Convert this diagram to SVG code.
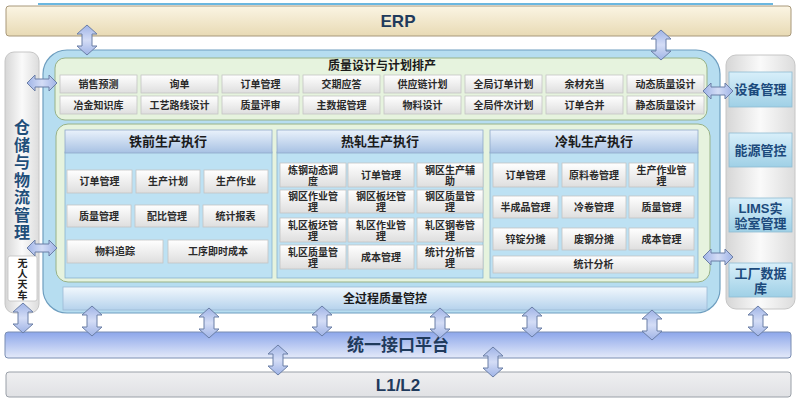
<svg xmlns="http://www.w3.org/2000/svg" width="800" height="400" viewBox="0 0 800 400">
<defs>
<linearGradient id="gErp" x1="0" y1="0" x2="0" y2="1"><stop offset="0" stop-color="#fbf5e4"/><stop offset="1" stop-color="#e8dab4"/></linearGradient>
<linearGradient id="gCol" x1="0" y1="0" x2="1" y2="0"><stop offset="0" stop-color="#d6d6d6"/><stop offset="0.5" stop-color="#fafafa"/><stop offset="1" stop-color="#dcdcdc"/></linearGradient>
<linearGradient id="gBtn" x1="0" y1="0" x2="0" y2="1"><stop offset="0" stop-color="#ffffff"/><stop offset="1" stop-color="#dedede"/></linearGradient>
<linearGradient id="gHead" x1="0" y1="0" x2="0" y2="1"><stop offset="0" stop-color="#eaf2fb"/><stop offset="1" stop-color="#a7c1e3"/></linearGradient>
<linearGradient id="gRbox" x1="0" y1="0" x2="0" y2="1"><stop offset="0" stop-color="#d8effa"/><stop offset="1" stop-color="#9fd0e6"/></linearGradient>
<linearGradient id="gPlat" x1="0" y1="0" x2="0" y2="1"><stop offset="0" stop-color="#8ca6ea"/><stop offset="1" stop-color="#e4eaf9"/></linearGradient>
<linearGradient id="gL12" x1="0" y1="0" x2="0" y2="1"><stop offset="0" stop-color="#efeff1"/><stop offset="1" stop-color="#e0e1e4"/></linearGradient>
<linearGradient id="gQ" x1="0" y1="0" x2="0" y2="1"><stop offset="0" stop-color="#f2f8fd"/><stop offset="1" stop-color="#b5d2ec"/></linearGradient>
<linearGradient id="gArV" x1="0" y1="0" x2="0" y2="1"><stop offset="0" stop-color="#9fb3e6"/><stop offset="0.5" stop-color="#d4ddf6"/><stop offset="1" stop-color="#9fb3e6"/></linearGradient>
<linearGradient id="gArH" x1="0" y1="0" x2="1" y2="0"><stop offset="0" stop-color="#9fb3e6"/><stop offset="0.5" stop-color="#d4ddf6"/><stop offset="1" stop-color="#9fb3e6"/></linearGradient>
<path id="av" d="M0,-15 L10,-6 L5,-6 L5,6 L10,6 L0,15 L-10,6 L-5,6 L-5,-6 L-10,-6 Z"/>
<path id="ah" d="M-15,0 L-7,-8 L-7,-4 L7,-4 L7,-8 L15,0 L7,8 L7,4 L-7,4 L-7,8 Z"/>
</defs>
<style>
text{font-family:"Liberation Sans","Noto Sans CJK SC",sans-serif;font-weight:bold;text-anchor:middle;dominant-baseline:central}
.btn{fill:url(#gBtn);stroke:#c4c4c4;stroke-width:0.8}
.bt{font-size:10px;fill:#2a2a2a}
.hd{fill:url(#gHead);stroke:#8fa9c9;stroke-width:0.8}
.ht{font-size:13px;fill:#1a1a1a}
.body{fill:#bde1f3;stroke:#8ab2cc;stroke-width:0.8}
.rb{fill:url(#gRbox);stroke:#8fbcd3;stroke-width:0.8}
.rt{font-size:13px;fill:#1c4a7c}
.vt{font-size:16px;fill:#1f4e79}
.ct{font-size:10px;fill:#222}
.big{fill:#1f3a5c}
.av{fill:url(#gArV);stroke:#6b7fa6;stroke-width:1}
.ah{fill:url(#gArH);stroke:#6b7fa6;stroke-width:1}
</style>
<rect width="800" height="400" fill="#ffffff"/>
<line x1="38" y1="4" x2="773" y2="4" stroke="#3a9fd6" stroke-width="1.5"/>

<g id="erp">
<rect x="6" y="6" width="785" height="30" rx="3" fill="url(#gErp)" stroke="#a8987a" stroke-width="1"/>
<text x="398" y="21" font-size="17" class="big">ERP</text>
</g>

<g id="warehouse">
<rect x="5" y="52" width="34" height="261" rx="9" fill="url(#gCol)" stroke="#c6c6c6" stroke-width="1"/>
<text class="vt"><tspan x="22" y="127">仓</tspan><tspan x="22" y="144.5">储</tspan><tspan x="22" y="162">与</tspan><tspan x="22" y="179.5">物</tspan><tspan x="22" y="197">流</tspan><tspan x="22" y="214.5">管</tspan><tspan x="22" y="232">理</tspan></text>
</g>
<g id="crane">
<rect x="8" y="256" width="29" height="45" rx="2" fill="#ffffff" stroke="#c0c0c0" stroke-width="0.8"/>
<text class="ct"><tspan x="22.5" y="263">无</tspan><tspan x="22.5" y="273.5">人</tspan><tspan x="22.5" y="284">天</tspan><tspan x="22.5" y="294.5">车</tspan></text>
</g>

<g id="right-column">
<rect x="726" y="55" width="69" height="254" rx="10" fill="url(#gCol)" stroke="#c6c6c6" stroke-width="1"/>
</g>

<g id="mes-container">
<rect x="43" y="50" width="677" height="263" rx="24" fill="#b6ddf0" stroke="#6e9ebf" stroke-width="1.2"/>
</g>

<g id="quality-design">
<rect x="55" y="58" width="652" height="62" rx="10" fill="#e6f3de" stroke="#98b288" stroke-width="1"/>
<text x="382" y="66" font-size="12" fill="#1a1a1a">质量设计与计划排产</text>
<g>
<rect class="btn" x="60" y="75" width="77" height="18"/><text class="bt" x="98.5" y="84">销售预测</text>
<rect class="btn" x="141" y="75" width="77" height="18"/><text class="bt" x="179.5" y="84">询单</text>
<rect class="btn" x="222" y="75" width="77" height="18"/><text class="bt" x="260.5" y="84">订单管理</text>
<rect class="btn" x="303" y="75" width="77" height="18"/><text class="bt" x="341.5" y="84">交期应答</text>
<rect class="btn" x="384" y="75" width="77" height="18"/><text class="bt" x="422.5" y="84">供应链计划</text>
<rect class="btn" x="465" y="75" width="77" height="18"/><text class="bt" x="503.5" y="84">全局订单计划</text>
<rect class="btn" x="546" y="75" width="77" height="18"/><text class="bt" x="584.5" y="84">余材充当</text>
<rect class="btn" x="627" y="75" width="77" height="18"/><text class="bt" x="665.5" y="84">动态质量设计</text>
<rect class="btn" x="60" y="96" width="77" height="18"/><text class="bt" x="98.5" y="105">冶金知识库</text>
<rect class="btn" x="141" y="96" width="77" height="18"/><text class="bt" x="179.5" y="105">工艺路线设计</text>
<rect class="btn" x="222" y="96" width="77" height="18"/><text class="bt" x="260.5" y="105">质量评审</text>
<rect class="btn" x="303" y="96" width="77" height="18"/><text class="bt" x="341.5" y="105">主数据管理</text>
<rect class="btn" x="384" y="96" width="77" height="18"/><text class="bt" x="422.5" y="105">物料设计</text>
<rect class="btn" x="465" y="96" width="77" height="18"/><text class="bt" x="503.5" y="105">全局件次计划</text>
<rect class="btn" x="546" y="96" width="77" height="18"/><text class="bt" x="584.5" y="105">订单合并</text>
<rect class="btn" x="627" y="96" width="77" height="18"/><text class="bt" x="665.5" y="105">静态质量设计</text>
</g>
</g>

<g id="production-panel">
<rect x="56" y="124" width="654" height="158" rx="12" fill="#e6f3de" stroke="#98b288" stroke-width="1"/>
</g>

<g id="iron-making">
<rect class="body" x="65" y="152" width="207" height="126"/>
<rect class="hd" x="65" y="130" width="207" height="23"/>
<text class="ht" x="168" y="141.5">铁前生产执行</text>
<rect class="btn" x="67" y="170" width="65" height="23"/><text class="bt" x="99.5" y="181.5">订单管理</text>
<rect class="btn" x="136" y="170" width="64" height="23"/><text class="bt" x="168" y="181.5">生产计划</text>
<rect class="btn" x="204" y="170" width="64" height="23"/><text class="bt" x="236" y="181.5">生产作业</text>
<rect class="btn" x="67" y="205" width="64" height="22"/><text class="bt" x="99" y="216">质量管理</text>
<rect class="btn" x="135" y="205" width="64" height="22"/><text class="bt" x="167" y="216">配比管理</text>
<rect class="btn" x="203" y="205" width="65" height="22"/><text class="bt" x="235.5" y="216">统计报表</text>
<rect class="btn" x="67" y="240" width="96" height="23"/><text class="bt" x="115" y="251.5">物料追踪</text>
<rect class="btn" x="168" y="240" width="100" height="23"/><text class="bt" x="218" y="251.5">工序即时成本</text>
</g>

<g id="hot-rolling">
<rect class="body" x="277" y="152" width="206" height="126"/>
<rect class="hd" x="277" y="130" width="206" height="23"/>
<text class="ht" x="380" y="141.5">热轧生产执行</text>
<rect class="btn" x="280" y="163" width="66" height="24"/><text class="bt"><tspan x="313" y="169.5">炼钢动态调</tspan><tspan x="313" y="180.5">度</tspan></text>
<rect class="btn" x="348" y="163" width="66" height="24"/><text class="bt" x="381" y="175">订单管理</text>
<rect class="btn" x="417" y="163" width="66" height="24"/><text class="bt"><tspan x="450" y="169.5">钢区生产辅</tspan><tspan x="450" y="180.5">助</tspan></text>
<rect class="btn" x="280" y="190" width="66" height="23"/><text class="bt"><tspan x="313" y="196">钢区作业管</tspan><tspan x="313" y="207">理</tspan></text>
<rect class="btn" x="348" y="190" width="66" height="23"/><text class="bt"><tspan x="381" y="196">钢区板坯管</tspan><tspan x="381" y="207">理</tspan></text>
<rect class="btn" x="417" y="190" width="66" height="23"/><text class="bt"><tspan x="450" y="196">钢区质量管</tspan><tspan x="450" y="207">理</tspan></text>
<rect class="btn" x="280" y="218" width="66" height="24"/><text class="bt"><tspan x="313" y="224.5">轧区板坯管</tspan><tspan x="313" y="235.5">理</tspan></text>
<rect class="btn" x="348" y="218" width="66" height="24"/><text class="bt"><tspan x="381" y="224.5">轧区作业管</tspan><tspan x="381" y="235.5">理</tspan></text>
<rect class="btn" x="417" y="218" width="66" height="24"/><text class="bt"><tspan x="450" y="224.5">轧区钢卷管</tspan><tspan x="450" y="235.5">理</tspan></text>
<rect class="btn" x="280" y="245" width="66" height="24"/><text class="bt"><tspan x="313" y="251.5">轧区质量管</tspan><tspan x="313" y="262.5">理</tspan></text>
<rect class="btn" x="348" y="245" width="66" height="24"/><text class="bt" x="381" y="257">成本管理</text>
<rect class="btn" x="417" y="245" width="66" height="24"/><text class="bt"><tspan x="450" y="251.5">统计分析管</tspan><tspan x="450" y="262.5">理</tspan></text>
</g>

<g id="cold-rolling">
<rect class="body" x="490" y="152" width="208" height="126"/>
<rect class="hd" x="490" y="130" width="208" height="23"/>
<text class="ht" x="594" y="141.5">冷轧生产执行</text>
<rect class="btn" x="493" y="163" width="65" height="24"/><text class="bt" x="525.5" y="175">订单管理</text>
<rect class="btn" x="562" y="163" width="64" height="24"/><text class="bt" x="594" y="175">原料卷管理</text>
<rect class="btn" x="629" y="163" width="65" height="24"/><text class="bt"><tspan x="661.5" y="169.5">生产作业管</tspan><tspan x="661.5" y="180.5">理</tspan></text>
<rect class="btn" x="493" y="196" width="65" height="22"/><text class="bt" x="525.5" y="207">半成品管理</text>
<rect class="btn" x="562" y="196" width="64" height="22"/><text class="bt" x="594" y="207">冷卷管理</text>
<rect class="btn" x="629" y="196" width="65" height="22"/><text class="bt" x="661.5" y="207">质量管理</text>
<rect class="btn" x="493" y="228" width="65" height="22"/><text class="bt" x="525.5" y="239">锌锭分摊</text>
<rect class="btn" x="562" y="228" width="64" height="22"/><text class="bt" x="594" y="239">废钢分摊</text>
<rect class="btn" x="629" y="228" width="65" height="22"/><text class="bt" x="661.5" y="239">成本管理</text>
<rect class="btn" x="493" y="256" width="201" height="17"/><text class="bt" x="593.5" y="264.5">统计分析</text>
</g>

<g id="quality-control">
<rect x="63" y="287" width="644" height="23" fill="url(#gQ)" stroke="#9cbad4" stroke-width="0.8"/>
<text x="385" y="298.5" font-size="12" fill="#1a1a1a">全过程质量管控</text>
</g>

<g id="equipment"><rect class="rb" x="729" y="72" width="63" height="35"/><text class="rt" x="760.5" y="89.5">设备管理</text></g>
<g id="energy"><rect class="rb" x="729" y="133" width="63" height="34"/><text class="rt" x="760.5" y="150">能源管控</text></g>
<g id="lims"><rect class="rb" x="729" y="198" width="63" height="34"/><text class="rt"><tspan x="760.5" y="207.5">LIMS实</tspan><tspan x="760.5" y="222.5">验室管理</tspan></text></g>
<g id="factory-db"><rect class="rb" x="729" y="263" width="63" height="34"/><text class="rt"><tspan x="760.5" y="272.5">工厂数据</tspan><tspan x="760.5" y="287.5">库</tspan></text></g>

<g id="interface-platform">
<rect x="5" y="332" width="786" height="26" rx="3" fill="url(#gPlat)" stroke="#7a8db2" stroke-width="1"/>
<text x="398" y="345" font-size="17" class="big">统一接口平台</text>
</g>

<g id="l1l2">
<rect x="6" y="372" width="785" height="25" rx="3" fill="url(#gL12)" stroke="#9aa0a8" stroke-width="1"/>
<text x="398" y="385" font-size="17" class="big">L1/L2</text>
</g>

<g id="connectors">
<use href="#av" class="av" x="87" y="40"/>
<use href="#av" class="av" x="661" y="45"/>
<use href="#ah" class="ah" x="42" y="83"/>
<use href="#ah" class="ah" x="718" y="91"/>
<use href="#ah" class="ah" x="42" y="248"/>
<use href="#ah" class="ah" x="718" y="257"/>
<use href="#av" class="av" x="23" y="318"/>
<use href="#av" class="av" x="92" y="321"/>
<use href="#av" class="av" x="209" y="323"/>
<use href="#av" class="av" x="322" y="321"/>
<use href="#av" class="av" x="440" y="323"/>
<use href="#av" class="av" x="532" y="322"/>
<use href="#av" class="av" x="652" y="325"/>
<use href="#av" class="av" x="758" y="321"/>
<use href="#av" class="av" x="278" y="360"/>
<use href="#av" class="av" x="493" y="362"/>
</g>
</svg>
